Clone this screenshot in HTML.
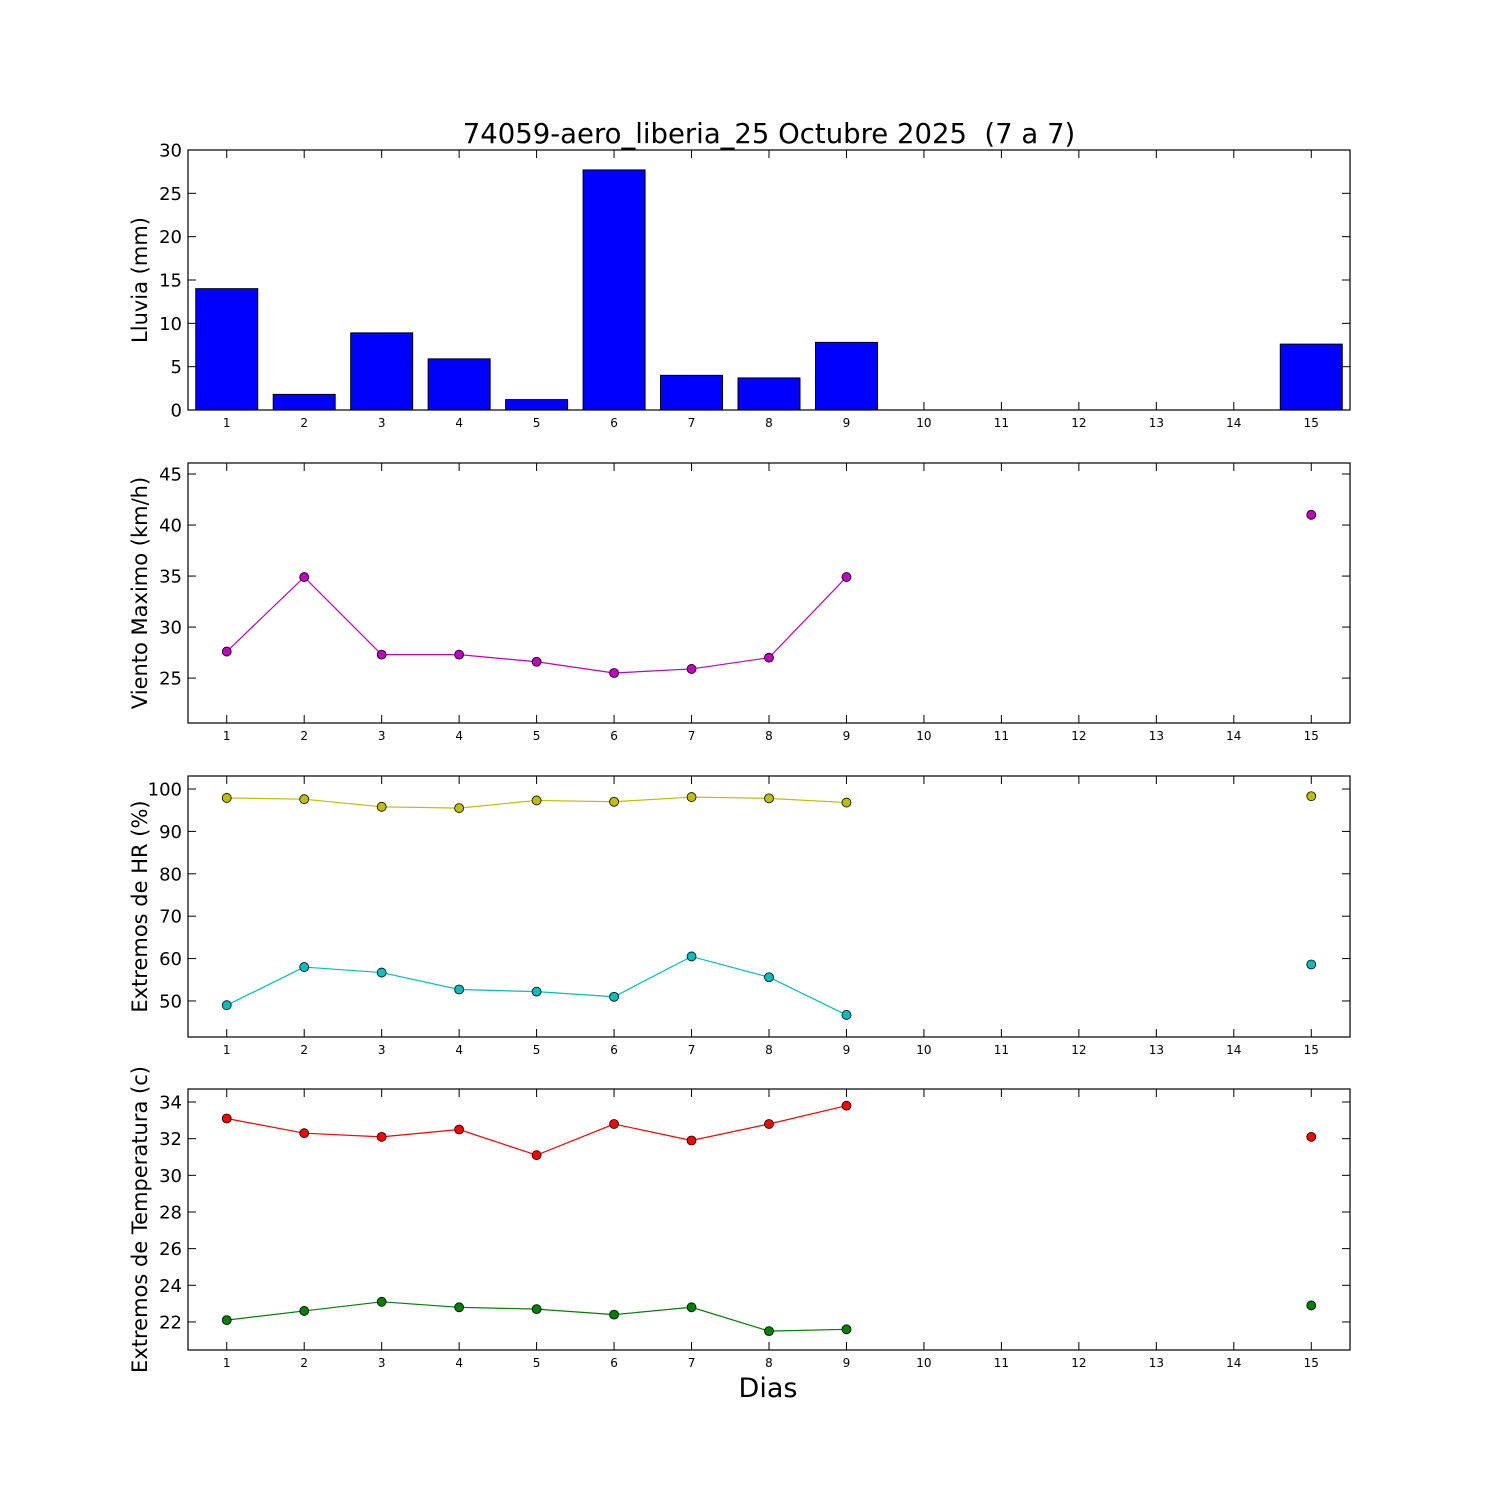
<!DOCTYPE html>
<html><head><meta charset="utf-8"><style>
body{margin:0;background:#fff;}
svg{display:block;font-family:"DejaVu Sans","Liberation Sans",sans-serif;}
</style></head><body>
<svg id="chart" width="1500" height="1500" viewBox="0 0 1500 1500"></svg>
<script>
const days=[1,2,3,4,5,6,7,8,9,10,11,12,13,14,15];
const rain=[14,1.8,8.9,5.9,1.2,27.7,4,3.7,7.8,0,0,0,0,0,7.6];
const wind=[27.6,34.9,27.3,27.3,26.6,25.5,25.9,27.0,34.9,null,null,null,null,null,41.0];
const hrMax=[97.9,97.6,95.8,95.5,97.3,97.0,98.1,97.8,96.8,null,null,null,null,null,98.3];
const hrMin=[49,58,56.7,52.7,52.2,51,60.5,55.6,46.7,null,null,null,null,null,58.6];
const tMax=[33.1,32.3,32.1,32.5,31.1,32.8,31.9,32.8,33.8,null,null,null,null,null,32.1];
const tMin=[22.1,22.6,23.1,22.8,22.7,22.4,22.8,21.5,21.6,null,null,null,null,null,22.9];
const rainTicks=[0,5,10,15,20,25,30];
const windTicks=[25,30,35,40,45];
const hrTicks=[50,60,70,80,90,100];
const tTicks=[22,24,26,28,30,32,34];

const svg=document.getElementById('chart');
const NS='http://www.w3.org/2000/svg';
function mk(tag,attrs,parent){const e=document.createElementNS(NS,tag);for(const k in attrs)e.setAttribute(k,attrs[k]);(parent||svg).appendChild(e);return e;}
const X0=188,X1=1350,XMIN=0.5,XMAX=15.5;
const xs=d=>X0+(d-XMIN)/(XMAX-XMIN)*(X1-X0);

function panel(name,top,bot,ymin,ymax,yticks,label){
  const g=mk('g',{});
  
  
  const ys=v=>bot-(v-ymin)/(ymax-ymin)*(bot-top);
  yticks.forEach(t=>{const y=ys(t);
    mk('line',{x1:X0,x2:X0+8,y1:y,y2:y,stroke:'#000'},g);
    mk('line',{x1:X1,x2:X1-8,y1:y,y2:y,stroke:'#000'},g);
    const tx=mk('text',{x:X0-6,y:y+6.5,'text-anchor':'end','font-size':18},g);
    tx.textContent=t;
    
    
  });
  days.forEach(d=>{const x=xs(d);
    mk('line',{x1:x,x2:x,y1:bot,y2:bot-8,stroke:'#000'},g);
    mk('line',{x1:x,x2:x,y1:top,y2:top+8,stroke:'#000'},g);
    const tx=mk('text',{x:x,y:bot+17,'text-anchor':'middle','font-size':12},g);
    tx.textContent=d;
    
    
  });
  const yl=mk('text',{x:0,y:0,'text-anchor':'middle','font-size':21,transform:`translate(147,${(top+bot)/2}) rotate(-90)`},g);
  yl.textContent=label;
  
  
  return {g,ys,top,bot};
}
function frame(p){mk('rect',{x:X0,y:p.top,width:X1-X0,height:p.bot-p.top,fill:'none',stroke:'#000','stroke-width':1.2},p.g);}
function series(p,vals,color,name){
  let seg=[];const segs=[];
  vals.forEach((v,i)=>{if(v==null){if(seg.length)segs.push(seg);seg=[];}else seg.push([xs(days[i]),p.ys(v)]);});
  if(seg.length)segs.push(seg);
  segs.forEach(s=>{if(s.length>1){const pl=mk('polyline',{points:s.map(q=>q.join(',')).join(' '),fill:'none',stroke:color,'stroke-width':1.2},p.g);
    
    }});
  vals.forEach((v,i)=>{if(v==null)return;
    const c=mk('circle',{cx:xs(days[i]),cy:p.ys(v),r:4.5,fill:color,stroke:'#000','stroke-width':0.8},p.g);
    
    });
}

const p1=panel('rain',150,410,0,30,rainTicks,'Lluvia (mm)');
rain.forEach((v,i)=>{const x=xs(days[i]-0.4),w=xs(days[i]+0.4)-x;
  if(v<=0)return;
  const r=mk('rect',{x:x,y:p1.ys(v),width:w,height:p1.ys(0)-p1.ys(v),fill:'#0000ff',stroke:'#000','stroke-width':1},p1.g);
  
  });
frame(p1);

const p2=panel('wind',463,723,20.6,46.08,windTicks,'Viento Maximo (km/h)');
series(p2,wind,'#bf00bf','wind');frame(p2);

const p3=panel('humidity',776,1037,41.5,103.07,hrTicks,'Extremos de HR (%)');
series(p3,hrMax,'#bfbf00','hr-max');series(p3,hrMin,'#00bfbf','hr-min');frame(p3);

const p4=panel('temperature',1089,1350,20.47,34.71,tTicks,'Extremos de Temperatura (c)');
series(p4,tMax,'#ff0000','t-max');series(p4,tMin,'#008000','t-min');frame(p4);

const title=mk('text',{x:769,y:143,'text-anchor':'middle','font-size':27.5});
title.textContent='74059-aero_liberia_25 Octubre 2025  (7 a 7)';


title.style.whiteSpace='pre';
const xl=mk('text',{x:768,y:1397,'text-anchor':'middle','font-size':27});
xl.textContent='Dias';


</script>
</body></html>
